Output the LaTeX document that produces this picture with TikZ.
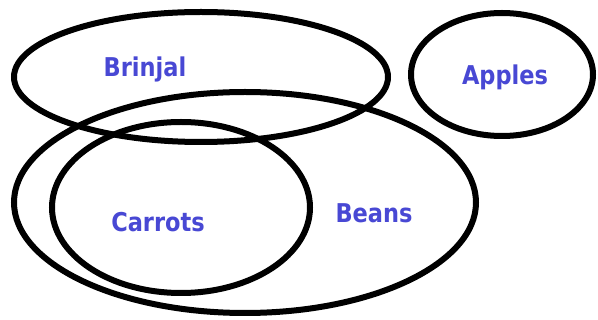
\documentclass[tikz,border=0pt]{standalone}
\usepackage{fontspec}
\setmainfont{DejaVu Sans}
\definecolor{lblblue}{RGB}{72,72,212}
\begin{document}
\begin{tikzpicture}[x=1pt,y=-1pt,
  setline/.style={line width=6pt, draw=black},
  setlabel/.style={text=lblblue, font=\bfseries\fontsize{22.5}{24}\selectfont, anchor=base, inner sep=0pt, yscale=1.15}]
\useasboundingbox (0,0) rectangle (598,320);
\fill[white] (0,0) rectangle (598,320);
\draw[setline] (201,77) ellipse [x radius=187, y radius=65];
\draw[setline] (502,74.5) ellipse [x radius=91, y radius=61.5];
\draw[setline] (245,202.5) ellipse [x radius=231, y radius=110.5];
\draw[setline] (181,207.5) ellipse [x radius=129, y radius=85.5];
\node[setlabel] (brinjal) at (145,77) {Brinjal};
\node[setlabel] (apples) at (505,85) {Apples};
\node[setlabel] (carrots) at (158,232) {Carrots};
\node[setlabel] (beans) at (374,223) {Beans};
\end{tikzpicture}
\end{document}
